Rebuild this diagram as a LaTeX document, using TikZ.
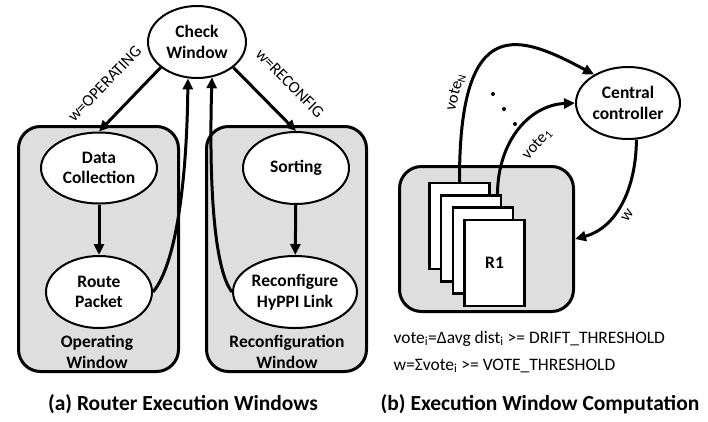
\documentclass[tikz,border=0pt]{standalone}
\usepackage{fontspec}
\setmainfont{Carlito}
\usepackage{tikz}
\usetikzlibrary{shapes,arrows.meta,calc}
\tikzstyle{tsBold} = [ 
    text=black, 
    font=\bfseries\fontsize{17.5}{20.5}\selectfont
]
\tikzstyle{tsEllipse} = [ 
    ellipse,
    tsBold,
    align=center,
    inner sep=0pt,
    draw=black,
    fill=white,
    line width=2pt]
\tikzstyle{tsWindow} = [ 
    rectangle,
    rounded corners=22pt,
    draw=black,
    fill=black!13,
    line width=3pt]
\tikzstyle{tsPage} = [ 
    rectangle,
    tsBold,
    draw=black,
    fill=white,
    minimum width=60pt,
    minimum height=86pt,
    line width=2.5pt]
\tikzstyle{tsArrow} = [ 
    line width=3pt,
    -{Triangle[length=11pt,width=10pt]}]
\tikzstyle{tsLabel} = [ 
    text=black, 
    font=\fontsize{16.5}{19}\selectfont
]
\tikzstyle{tsFormula} = [ 
    text=black, 
    anchor=base west,
    font=\fontsize{17.5}{20}\selectfont
]
\tikzstyle{tsCaption} = [ 
    text=black, 
    font=\bfseries\fontsize{21.5}{25}\selectfont
]

\begin{document}
\begin{tikzpicture}[x=1pt, y=-1pt]
        
        \useasboundingbox (0,0) rectangle (708,421);
        
        % (a) router execution windows
        \node[tsWindow, minimum width=160pt, minimum height=245pt] (opwin) at (98.5,249) { };
        \node[tsWindow, minimum width=160pt, minimum height=245pt] (reconfwin) at (286.5,249) { };
        
        \node[tsEllipse, minimum width=98pt, minimum height=72pt] (checkwin) at (197,42) {Check\\Window};
        \node[tsEllipse, minimum width=116pt, minimum height=71pt] (datacol) at (99,168) {Data\\Collection};
        \node[tsEllipse, minimum width=106pt, minimum height=72pt] (routepkt) at (99,292) {Route\\Packet};
        \node[tsEllipse, minimum width=106pt, minimum height=72pt] (sorting) at (296,168) {Sorting};
        \node[tsEllipse, minimum width=124pt, minimum height=72pt] (reconfig) at (295,292) {Reconfigure\\HyPPI Link};
        
        \node[tsBold, align=center] (oplabel) at (97,352) {Operating\\Window};
        \node[tsBold, align=center] (reconflabel) at (287,352) {Reconfiguration\\Window};
        
        \draw[tsArrow] (checkwin.215) -- (datacol.north)
            node[pos=0.57, sloped, above=19pt, tsLabel] {w=OPERATING};
        \draw[tsArrow] (checkwin.-35) -- (sorting.north)
            node[pos=0.57, sloped, above=19pt, tsLabel] {w=RECONFIG};
        \draw[tsArrow] (datacol) -- (routepkt);
        \draw[tsArrow] (sorting) -- (reconfig);
        \draw[tsArrow] (routepkt.east) .. controls (178,262) and (187,170) .. (checkwin.256);
        \draw[tsArrow] (reconfig.west) .. controls (213,268) and (209,175) .. (checkwin.293);
        
        % (b) execution window computation
        \node[tsWindow, minimum width=174pt, minimum height=145pt] (rbox) at (486.5,239) { };
        \node[tsPage] (p1) at (459.5,226) { };
        \node[tsPage] (p2) at (471.2,238.3) { };
        \node[tsPage] (p3) at (482.9,250.6) { };
        \node[tsPage] (p4) at (494.6,262.9) {R1};
        
        \node[tsEllipse, minimum width=104pt, minimum height=72pt] (central) at (628,103) {Central\\controller};
        
        \draw[tsArrow] (p1.north) .. controls (459,10) and (520,35) .. (central.140)
            node[pos=0.22, sloped, above=1pt, tsLabel] {vote\textsubscript{N}};
        \draw[tsArrow] ([xshift=-5pt]p2.north east) .. controls (498,140) and (530,105) .. (central.west)
            node[pos=0.5, sloped, below=12pt, tsLabel] {vote\textsubscript{1}};
        \draw[tsArrow] (central.-77) .. controls (636,190) and (616,228) .. (rbox.east)
            node[pos=0.55, sloped, below=3pt, tsLabel] {w};
        
        \fill (493,94) circle (2pt);
        \fill (504,109) circle (2pt);
        \fill (515,124) circle (2pt);
        
        \node[tsFormula] (drift) at (390,343) {vote\textsubscript{i}=Δavg dist\textsubscript{i} >= DRIFT\_THRESHOLD};
        \node[tsFormula] (votesum) at (390,370) {w=Σvote\textsubscript{i} >= VOTE\_THRESHOLD};
        
        \node[tsCaption] (capa) at (183,404) {(a) Router Execution Windows};
        \node[tsCaption] (capb) at (540,404) {(b) Execution Window Computation};
        
\end{tikzpicture}
\end{document}
